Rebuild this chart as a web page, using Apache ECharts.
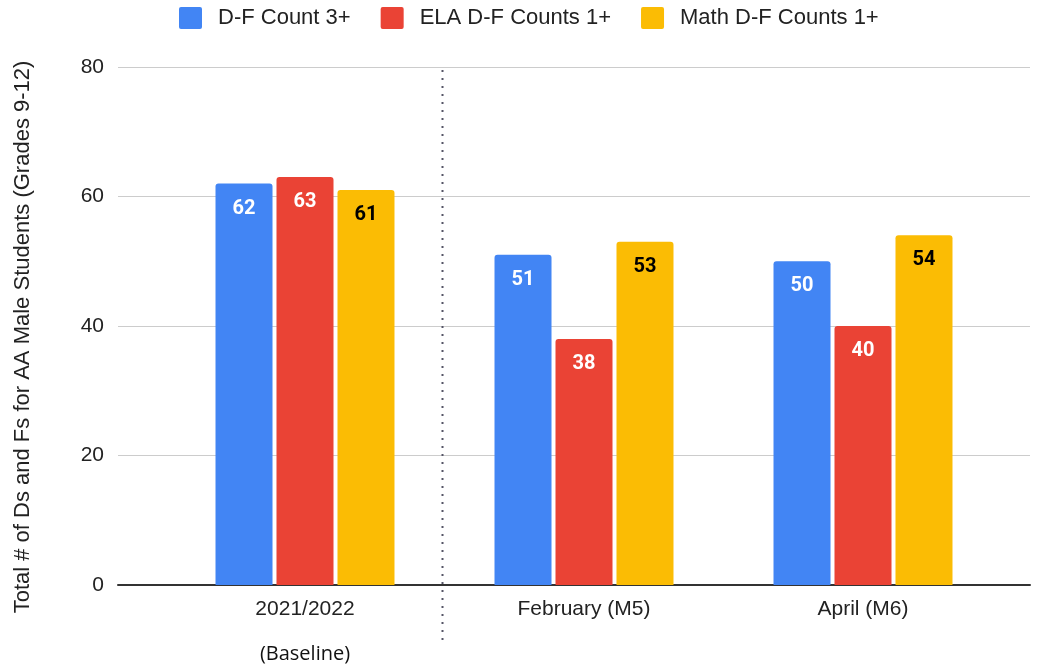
<!DOCTYPE html>
<html>
<head>
<meta charset="utf-8">
<script src="https://cdn.jsdelivr.net/npm/echarts@6/dist/echarts.min.js"></script>
<style>
  html, body { margin: 0; padding: 0; background: #fff; }
  #chart { width: 1039px; height: 666px; }
</style>
</head>
<body>
<div id="chart"></div>
<script>
    // data
    var categories = ["2021/2022", "February (M5)", "April (M6)"];
    var seriesNames = ["D-F Count 3+", "ELA D-F Counts 1+", "Math D-F Counts 1+"];
    var dfCount3 = [62, 51, 50];
    var elaCounts1 = [63, 38, 40];
    var mathCounts1 = [61, 53, 54];
    var yTicks = [0, 20, 40, 60, 80];
    var baselineNote = "(Baseline)";

    var colors = ["#4285F4", "#EA4335", "#FBBC04"];
    var labelColors = ["#ffffff", "#ffffff", "#000000"];
    var seriesData = [dfCount3, elaCounts1, mathCounts1];
    var font = "Liberation Sans";

    var chart = echarts.init(document.getElementById("chart"));

    var series = [];
    for (var i = 0; i < seriesNames.length; i++) {
        series.push({
            name: seriesNames[i],
            type: "bar",
            xAxisIndex: 1,
            yAxisIndex: 1,
            data: seriesData[i],
            barWidth: 57,
            barGap: "7%",
            itemStyle: { color: colors[i], borderRadius: [3, 3, 0, 0] },
            label: {
                show: true,
                position: "insideTop",
                distance: 15,
                color: labelColors[i],
                fontFamily: "Roboto",
                fontWeight: "bold",
                fontSize: 20
            }
        });
    }

    var option = {
        animation: false,
        backgroundColor: "#ffffff",
        color: colors,
        legend: {
            top: 2,
            left: 174,
            itemWidth: 23,
            itemHeight: 22,
            itemGap: 30,
            icon: "path://M2,0H21Q23,0 23,2V20Q23,22 21,22H2Q0,22 0,20V2Q0,0 2,0Z",
            textStyle: { fontFamily: font, fontSize: 22, color: "#222", padding: [0, 0, 0, 11] },
            data: seriesNames
        },
        grid: [
            { left: 118, right: 9, top: 67, bottom: 81 },
            { left: 165.5, right: 36.5, top: 67, bottom: 81 }
        ],
        xAxis: [
            {
                gridIndex: 0,
                type: "category",
                data: [""],
                axisLine: { show: true, lineStyle: { color: "#333", width: 2 } },
                axisTick: { show: false },
                axisLabel: { show: false }
            },
            {
                gridIndex: 1,
                type: "category",
                data: categories,
                axisLine: { show: false },
                axisTick: { show: false },
                axisLabel: {
                    margin: 13,
                    formatter: function (v, idx) {
                        return idx === 0 ? "{a|" + v + "}\n{b|" + baselineNote + "}" : "{a|" + v + "}";
                    },
                    rich: {
                        a: { fontFamily: font, fontSize: 21, color: "#222", lineHeight: 22 },
                        b: { fontFamily: "Open Sans", fontSize: 20, color: "#111", lineHeight: 68 }
                    }
                }
            }
        ],
        yAxis: [
            {
                gridIndex: 0,
                type: "value",
                min: yTicks[0],
                max: yTicks[yTicks.length - 1],
                interval: yTicks[1] - yTicks[0],
                name: "Total # of Ds and Fs for AA Male Students (Grades 9-12)",
                nameLocation: "middle",
                nameGap: 84,
                nameTextStyle: { fontFamily: font, fontSize: 22, color: "#222", padding: [0, 22, 0, 0] },
                axisLine: { show: false },
                axisTick: { show: false },
                axisLabel: { fontFamily: font, fontSize: 21, color: "#222", margin: 14 },
                splitLine: { lineStyle: { color: "#cccccc", width: 1 } }
            },
            {
                gridIndex: 1,
                type: "value",
                min: yTicks[0],
                max: yTicks[yTicks.length - 1],
                interval: yTicks[1] - yTicks[0],
                show: false,
                splitLine: { show: false }
            }
        ],
        series: series
    };

    chart.setOption(option);

    // dotted separator between the baseline and the later months
    var x0 = chart.convertToPixel({ xAxisIndex: 1 }, categories[0]);
    var x1 = chart.convertToPixel({ xAxisIndex: 1 }, categories[1]);
    var yTop = chart.convertToPixel({ yAxisIndex: 1 }, yTicks[yTicks.length - 1]);
    var yBase = chart.convertToPixel({ yAxisIndex: 1 }, yTicks[0]);
    var xs = Math.round((x0 + x1) / 2) - 2.5;
    chart.setOption({
        graphic: [{
            type: "line",
            shape: { x1: xs, y1: yTop + 3, x2: xs, y2: yBase + 55 },
            style: { stroke: "#556", lineWidth: 2, lineDash: [2, 6] },
            z: 10
        }]
    });
</script>
</body>
</html>
